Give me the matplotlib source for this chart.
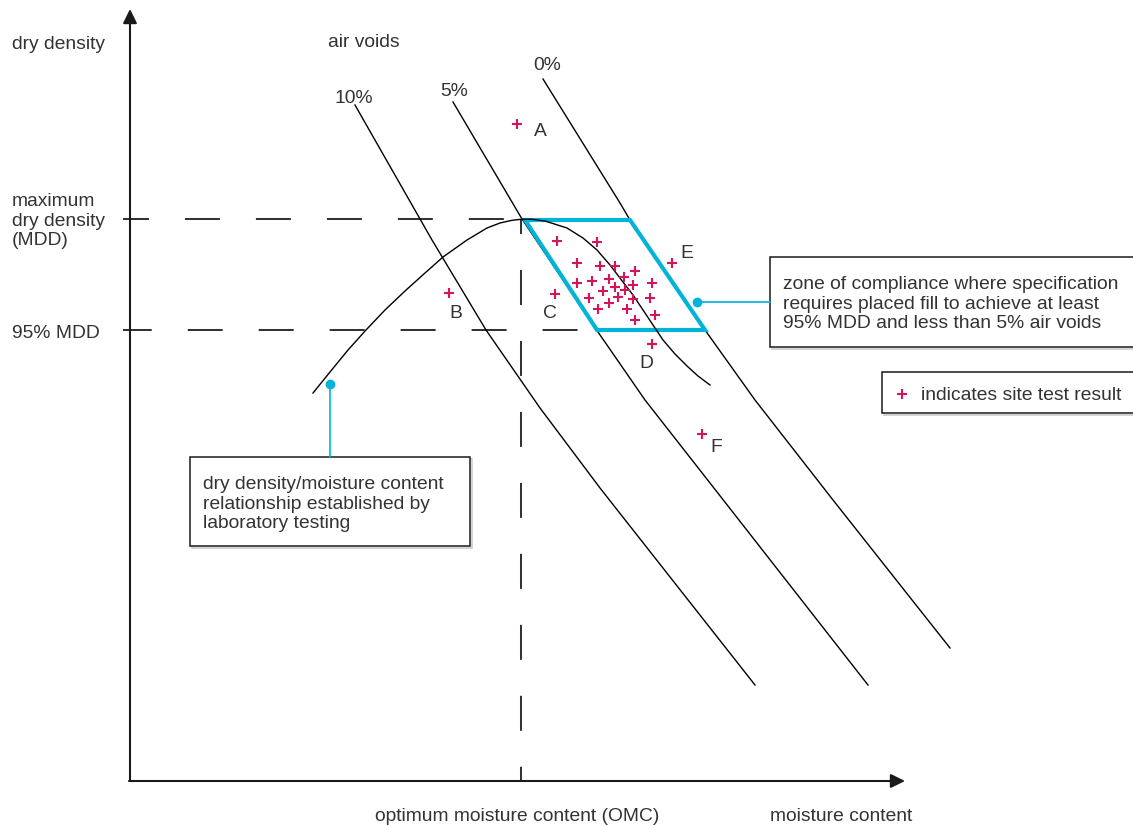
import matplotlib.pyplot as plt
from matplotlib.patches import Rectangle, Polygon

plt.rcParams['font.family'] = ['Liberation Sans', 'DejaVu Sans']
plt.rcParams['lines.scale_dashes'] = False

# everything in its own units (x to the right, y down)
# air voids lines
void10_x = [355, 432, 486, 540, 600, 755]
void10_y = [105, 240, 330, 408, 488, 685]
void5_x = [453, 522, 598, 645, 710, 868]
void5_y = [102, 219, 332, 400, 483, 685]
void0_x = [543, 620, 630, 705, 755, 833, 950]
void0_y = [79, 203, 220, 330, 400, 500, 648]
void_labels = ['10%', '5%', '0%']

# dry density / moisture content curve from lab testing
curve_x = [313, 330, 348, 366, 385, 405, 425, 443, 467, 487, 500, 512, 522,
           532, 545, 567, 583, 597, 610, 623, 633, 643, 653, 663, 675, 687, 698, 710]
curve_y = [393, 372, 350, 330, 310, 291, 273, 257, 240, 228, 223, 220.3, 219.2,
           219.3, 221, 228, 238, 250, 265, 282, 295, 310, 325, 340, 354, 366, 376, 385]

omc = 521
mdd = 219
mdd95 = 330

# zone of compliance
zone_x = [525, 630, 705, 597]
zone_y = [220, 220, 330, 330]

# site test results
test_x = [557, 597, 577, 600, 615, 635, 577, 592, 609, 624, 652, 615, 633,
          603, 625, 589, 618, 633, 650, 609, 598, 627, 655, 635]
test_y = [241, 242, 263, 266, 266, 271, 283, 281, 279, 277, 283, 287, 285,
          291, 290, 298, 297, 299, 298, 303, 309, 309, 315, 320]
named_labels = ['A', 'B', 'C', 'D', 'E', 'F']
named_x = [517, 449, 555, 652, 672, 702]
named_y = [124, 293, 294, 344, 263, 434]
label_x = [540, 456, 550, 646, 687, 716]
label_y = [131, 313, 313, 364, 254, 447]

TXT = '#333333'
PINK = '#d6145c'
CYAN = '#00b4d8'
FS = 13.9
LINE_H = 19.7

fig = plt.figure(figsize=(11.33, 8.25), dpi=100)
ax = fig.add_axes([0, 0, 1, 1])
ax.set_xlim(0, 1133)
ax.set_ylim(825, 0)
ax.axis('off')

# axes with arrows
arrow = dict(arrowstyle='-|>,head_length=0.85,head_width=0.42',
             lw=1.5, color='#1a1a1a', shrinkA=0, shrinkB=0)
ax.annotate('', xy=(130, 9), xytext=(130, 781), arrowprops=arrow)
ax.annotate('', xy=(905, 781), xytext=(129, 781), arrowprops=arrow)

# dashed guide lines
dash = (25.2, 25.9)
ax.plot([123, omc], [mdd, mdd], color=TXT, lw=1.45, ls=(6.5, dash))
ax.plot([123, 598], [mdd95, mdd95], color=TXT, lw=1.45, ls=(4.5, dash))
ax.plot([omc, omc], [mdd, 781], color=TXT, lw=1.45, ls=(14.4, dash))

# air voids lines
for vx, vy in [(void10_x, void10_y), (void5_x, void5_y), (void0_x, void0_y)]:
    ax.plot(vx, vy, color='black', lw=1.0, zorder=2)

# zone of compliance
ax.add_patch(Polygon(list(zip(zone_x, zone_y)), closed=True, fill=False,
                     edgecolor=CYAN, lw=3.0, joinstyle='miter', zorder=3))

# lab curve
ax.plot(curve_x, curve_y, color='black', lw=1.0, zorder=4,
        solid_joinstyle='round')

# site tests
ax.plot(test_x, test_y, ls='none', marker='+', ms=7.5, mew=1.5, color=PINK, zorder=5)
ax.plot(named_x, named_y, ls='none', marker='+', ms=7.5, mew=1.5, color=PINK, zorder=5)
for s, lx, ly in zip(named_labels, label_x, label_y):
    ax.text(lx, ly, s, fontsize=FS, color=TXT, ha='center', va='center')


def label(x, y, s):
    # one baseline per line so the spacing matches the drawing
    for i, line in enumerate(s.split('\n')):
        ax.text(x, y + i * LINE_H, line, fontsize=FS, color=TXT,
                ha='left', va='baseline')


def box(x, y, w, h):
    ax.add_patch(Rectangle((x + 1.5, y + 1.5), w, h, fill=False,
                           edgecolor='#c8c8c8', lw=1.1, zorder=1))
    ax.add_patch(Rectangle((x, y), w, h, facecolor='white',
                           edgecolor='#1a1a1a', lw=1.1, zorder=1.5))


label(12, 49, 'dry density')
label(328, 47, 'air voids')
label(335, 103, void_labels[0])
label(440, 96, void_labels[1])
label(533, 70, void_labels[2])
label(12, 206, 'maximum\ndry density\n(MDD)')
label(12, 338, '95% MDD')
label(375, 821, 'optimum moisture content (OMC)')
label(770, 821, 'moisture content')

# callout: zone of compliance
ax.plot([697, 770], [302, 302], color=CYAN, lw=1.2, zorder=2)
ax.plot([697], [302], marker='o', ms=6, color=CYAN, zorder=6)
box(770, 257, 370, 90)
label(783, 289, 'zone of compliance where specification\n'
      'requires placed fill to achieve at least\n'
      '95% MDD and less than 5% air voids')

# legend box
box(882, 372, 255, 41)
ax.plot([902], [394], ls='none', marker='+', ms=7.5, mew=1.5, color=PINK, zorder=3)
label(921, 400, 'indicates site test result')

# callout: lab curve
ax.plot([330, 330], [384, 457], color=CYAN, lw=1.2, zorder=2)
ax.plot([330], [384], marker='o', ms=6, color=CYAN, zorder=6)
box(190, 457, 280, 89)
label(203, 489, 'dry density/moisture content\n'
      'relationship established by\n'
      'laboratory testing')

fig.savefig('out.png', dpi=100, facecolor='white')
